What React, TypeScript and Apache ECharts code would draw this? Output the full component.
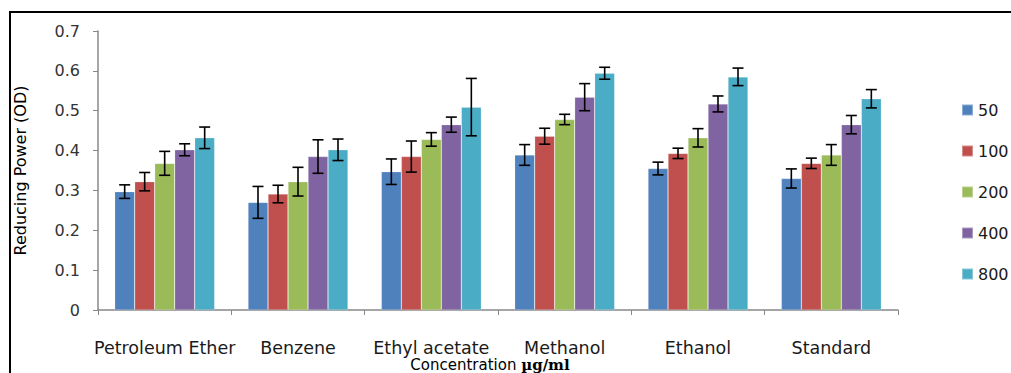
import React, { useEffect, useRef } from "react";
import * as echarts from "echarts";

const categories = ["Petroleum Ether", "Benzene", "Ethyl acetate", "Methanol", "Ethanol", "Standard"];
const seriesNames = ["50", "100", "200", "400", "800"];
const colors = ["#4F81BD", "#C0504D", "#9BBB59", "#8064A2", "#4BACC6"];

const values50 = [0.297, 0.27, 0.347, 0.389, 0.355, 0.33];
const values100 = [0.322, 0.291, 0.385, 0.436, 0.393, 0.368];
const values200 = [0.368, 0.322, 0.428, 0.478, 0.432, 0.389];
const values400 = [0.402, 0.385, 0.465, 0.534, 0.517, 0.465];
const values800 = [0.432, 0.402, 0.509, 0.594, 0.585, 0.53];

const err50 = [0.017, 0.04, 0.032, 0.026, 0.016, 0.024];
const err100 = [0.023, 0.022, 0.039, 0.02, 0.013, 0.013];
const err200 = [0.03, 0.036, 0.017, 0.013, 0.023, 0.026];
const err400 = [0.015, 0.042, 0.019, 0.034, 0.02, 0.023];
const err800 = [0.027, 0.027, 0.072, 0.015, 0.022, 0.023];

const yTicks = [0, 0.1, 0.2, 0.3, 0.4, 0.5, 0.6, 0.7];

const allValues = [values50, values100, values200, values400, values800];
const allErrors = [err50, err100, err200, err400, err800];

const BAR_CATEGORY_GAP = 0.25;

export default function App() {
  const ref = useRef<HTMLDivElement>(null);
  useEffect(() => {
    if (!ref.current) return;
    const chart = echarts.init(ref.current, null, { renderer: "svg" });
    const n = seriesNames.length;
    const barSeries = seriesNames.map((name, i) => ({
      name,
      type: "bar",
      data: allValues[i],
      itemStyle: { color: colors[i], borderColor: "rgba(255,255,255,0.35)", borderWidth: 0.6 },
      barGap: "0%",
      barCategoryGap: "25%",
    }));
    const errSeries = seriesNames.map((name, i) => ({
      name: name + "_err",
      type: "custom",
      z: 10,
      silent: true,
      data: allValues[i].map((v, k) => [k, v, allErrors[i][k]]),
      renderItem: (params: any, api: any) => {
        const cat = api.value(0);
        const v = api.value(1);
        const e = api.value(2);
        const band = api.size([1, 0])[0];
        const bw = (band * (1 - BAR_CATEGORY_GAP)) / n;
        const center = api.coord([cat, v]);
        const x = center[0] + (i - (n - 1) / 2) * bw;
        const top = api.coord([cat, v + e])[1];
        const bot = api.coord([cat, v - e])[1];
        const cap = 5.5;
        const style = { stroke: "#000", lineWidth: 1.6 };
        return {
          type: "group",
          children: [
            { type: "line", shape: { x1: x, y1: top, x2: x, y2: bot }, style },
            { type: "line", shape: { x1: x - cap, y1: top, x2: x + cap, y2: top }, style },
            { type: "line", shape: { x1: x - cap, y1: bot, x2: x + cap, y2: bot }, style },
          ],
        };
      },
    }));
    chart.setOption({
      animation: false,
      backgroundColor: "#fff",
      graphic: [
        {
          type: "rect",
          shape: { x: 10, y: 12, width: 1100, height: 400 },
          style: { fill: "none", stroke: "#000", lineWidth: 2 },
          silent: true,
          z: 100,
        },
      ],
      legend: {
        orient: "vertical",
        left: 956,
        top: 97,
        itemWidth: 11,
        itemHeight: 11,
        itemGap: 25,
        icon: "rect",
        data: seriesNames,
        textStyle: { fontFamily: "DejaVu Sans", fontSize: 16, color: "#1a1a1a" },
      },
      grid: { left: 98, right: 113, top: 31, bottom: 63, outerBoundsMode: "none", containLabel: false },
      xAxis: {
        type: "category",
        data: categories,
        axisLine: { lineStyle: { color: "#888", width: 1.5 } },
        axisTick: { show: true, length: 5, lineStyle: { color: "#888" } },
        axisLabel: {
          fontFamily: "DejaVu Sans",
          fontSize: 17.5,
          lineHeight: 17,
          color: "#1a1a1a",
          margin: 29,
          interval: 0,
        },
        name: "{a|Concentration }{b|µg/ml}",
        nameLocation: "middle",
        nameGap: 47,
        nameMoveOverlap: false,
        nameTextStyle: {
          padding: [0, 16, 0, 0],
          rich: {
            a: { fontFamily: "DejaVu Sans", fontSize: 15, lineHeight: 16, color: "#000" },
            b: { fontFamily: "DejaVu Serif", fontSize: 15, lineHeight: 16, fontWeight: "bold", color: "#000" },
          },
        },
      },
      yAxis: {
        type: "value",
        min: yTicks[0],
        max: yTicks[yTicks.length - 1],
        interval: 0.1,
        axisLine: { show: true, lineStyle: { color: "#888", width: 1.5 } },
        axisTick: { show: true, length: 5, lineStyle: { color: "#888" } },
        splitLine: { show: false },
        axisLabel: {
          fontFamily: "DejaVu Sans",
          fontSize: 16,
          color: "#333",
          margin: 18,
          formatter: (v: number) => (v === 0 ? "0" : v.toFixed(1)),
        },
        name: "Reducing Power (OD)",
        nameLocation: "middle",
        nameGap: 70,
        nameMoveOverlap: false,
        nameTextStyle: { fontFamily: "DejaVu Sans", fontSize: 16, color: "#000" },
      },
      series: [...barSeries, ...errSeries],
    } as any);
    return () => chart.dispose();
  }, []);
  return (
    <div
      ref={ref}
      style={{ position: "fixed", left: 0, top: 0, width: 1011, height: 373, background: "#fff" }}
    />
  );
}
